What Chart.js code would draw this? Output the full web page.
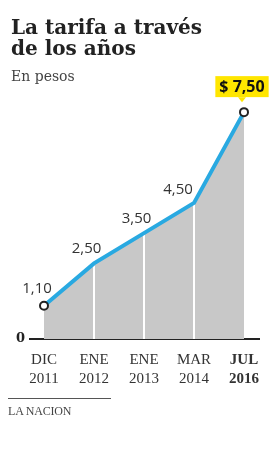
<!DOCTYPE html>
<html>
<head>
<meta charset="utf-8">
<script src="https://cdn.jsdelivr.net/npm/chart.js@4/dist/chart.umd.min.js"></script>
<style>
  html, body { margin: 0; padding: 0; background: #fff; }
  #wrap { position: relative; width: 280px; height: 453px; overflow: hidden; }
  canvas { position: absolute; left: 0; top: 0; }
  .title { position: absolute; left: 11px; top: 17px; font: bold 20px/21px "DejaVu Serif", serif; color: #222; }
  .sub { position: absolute; left: 11px; top: 69px; font: 14px/14px "DejaVu Serif", serif; color: #444; }
  .rule { position: absolute; left: 8px; top: 398px; width: 103px; height: 0; border-top: 1px solid #555; }
  .source { position: absolute; left: 8px; top: 405px; font: 12px/12px "Liberation Serif", serif; color: #444; letter-spacing: -0.2px; }
</style>
</head>
<body>
<div id="wrap">
  <canvas id="chart" width="280" height="453"></canvas>
  <div class="title">La tarifa a través<br>de los años</div>
  <div class="sub">En pesos</div>
  <div class="rule"></div>
  <div class="source">LA NACION</div>
</div>
<script>
const periods = [['DIC', '2011'], ['ENE', '2012'], ['ENE', '2013'], ['MAR', '2014'], ['JUL', '2016']];
const tarifa = [1.10, 2.50, 3.50, 4.50, 7.50];
const yTicks = [0];

const fmt = v => v.toFixed(2).replace('.', ',');
const last = tarifa.length - 1;

// white separators between the dates, drawn over the fill but under the line
const separators = {
  id: 'separators',
  beforeDatasetDraw(chart) {
    const meta = chart.getDatasetMeta(0);
    const base = chart.scales.y.getPixelForValue(0);
    const ctx = chart.ctx;
    ctx.save();
    ctx.strokeStyle = '#fff';
    ctx.lineWidth = 2;
    for (let i = 1; i < last; i++) {
      const p = meta.data[i];
      ctx.beginPath();
      ctx.moveTo(p.x, p.y);
      ctx.lineTo(p.x, base);
      ctx.stroke();
    }
    ctx.restore();
  }
};

// value labels, the last one in a yellow call-out
const valueLabels = {
  id: 'valueLabels',
  afterDatasetsDraw(chart) {
    const meta = chart.getDatasetMeta(0);
    const ctx = chart.ctx;
    const dx = [-7, -7.5, -7.5, -16];
    const dy = [-17, -15, -14, -13];
    ctx.save();
    ctx.textBaseline = 'middle';
    ctx.textAlign = 'center';
    meta.data.forEach((p, i) => {
      if (i === last) {
        const text = '$ ' + fmt(tarifa[i]);
        ctx.font = 'bold 16px "Open Sans", sans-serif';
        const w = ctx.measureText(text).width + 8;
        const cx = p.x - 2;
        const bottom = p.y - 15;
        ctx.fillStyle = '#ffe600';
        ctx.fillRect(cx - w / 2, bottom - 21, w, 21);
        ctx.beginPath();
        ctx.moveTo(cx - 4, bottom);
        ctx.lineTo(cx + 4, bottom);
        ctx.lineTo(cx, bottom + 5);
        ctx.closePath();
        ctx.fill();
        ctx.fillStyle = '#111';
        ctx.fillText(text, cx, bottom - 10);
      } else {
        ctx.font = '15px "Open Sans", sans-serif';
        ctx.fillStyle = '#333';
        ctx.fillText(fmt(tarifa[i]), p.x + dx[i], p.y + dy[i]);
      }
    });
    ctx.restore();
  }
};

new Chart(document.getElementById('chart'), {
  type: 'line',
  data: {
    datasets: [{
      data: tarifa.map((v, i) => ({ x: i, y: v })),
      borderColor: '#29a9e1',
      borderWidth: 4,
      tension: 0,
      fill: 'origin',
      backgroundColor: '#c8c8c8',
      pointRadius: ctx => (ctx.dataIndex === 0 || ctx.dataIndex === last) ? 4 : 0,
      pointBackgroundColor: '#fff',
      pointBorderColor: '#222',
      pointBorderWidth: 2
    }]
  },
  plugins: [separators, valueLabels],
  options: {
    responsive: false,
    animation: false,
    layout: { padding: { left: 16, right: 21, top: 97, bottom: 64 } },
    plugins: {
      legend: { display: false },
      tooltip: { enabled: false },
      filler: { drawTime: 'beforeDatasetDraw' }
    },
    scales: {
      x: {
        type: 'linear',
        min: -0.28,
        max: 4.3,
        afterFit(scale) { scale.height = 50; },
        grid: { display: false, drawTicks: false },
        border: { display: true, color: '#222', width: 2 },
        ticks: {
          stepSize: 1,
          includeBounds: false,
          autoSkip: false,
          maxRotation: 0,
          padding: 11,
          color: '#333',
          font: ctx => ({
            family: '"Liberation Serif", serif',
            size: 15,
            lineHeight: 1.3,
            weight: ctx.tick && ctx.tick.value === last ? 'bold' : 'normal'
          }),
          callback: v => periods[v] || null
        }
      },
      y: {
        min: 0,
        max: 8,
        afterFit(scale) { scale.width = 14; },
        grid: { display: false, drawTicks: false },
        border: { display: false },
        ticks: {
          stepSize: 1,
          padding: 5,
          color: '#222',
          font: { family: '"DejaVu Serif", serif', size: 13, weight: 'bold' },
          callback: v => yTicks.includes(v) ? String(v) : null
        }
      }
    }
  }
});
</script>
</body>
</html>
